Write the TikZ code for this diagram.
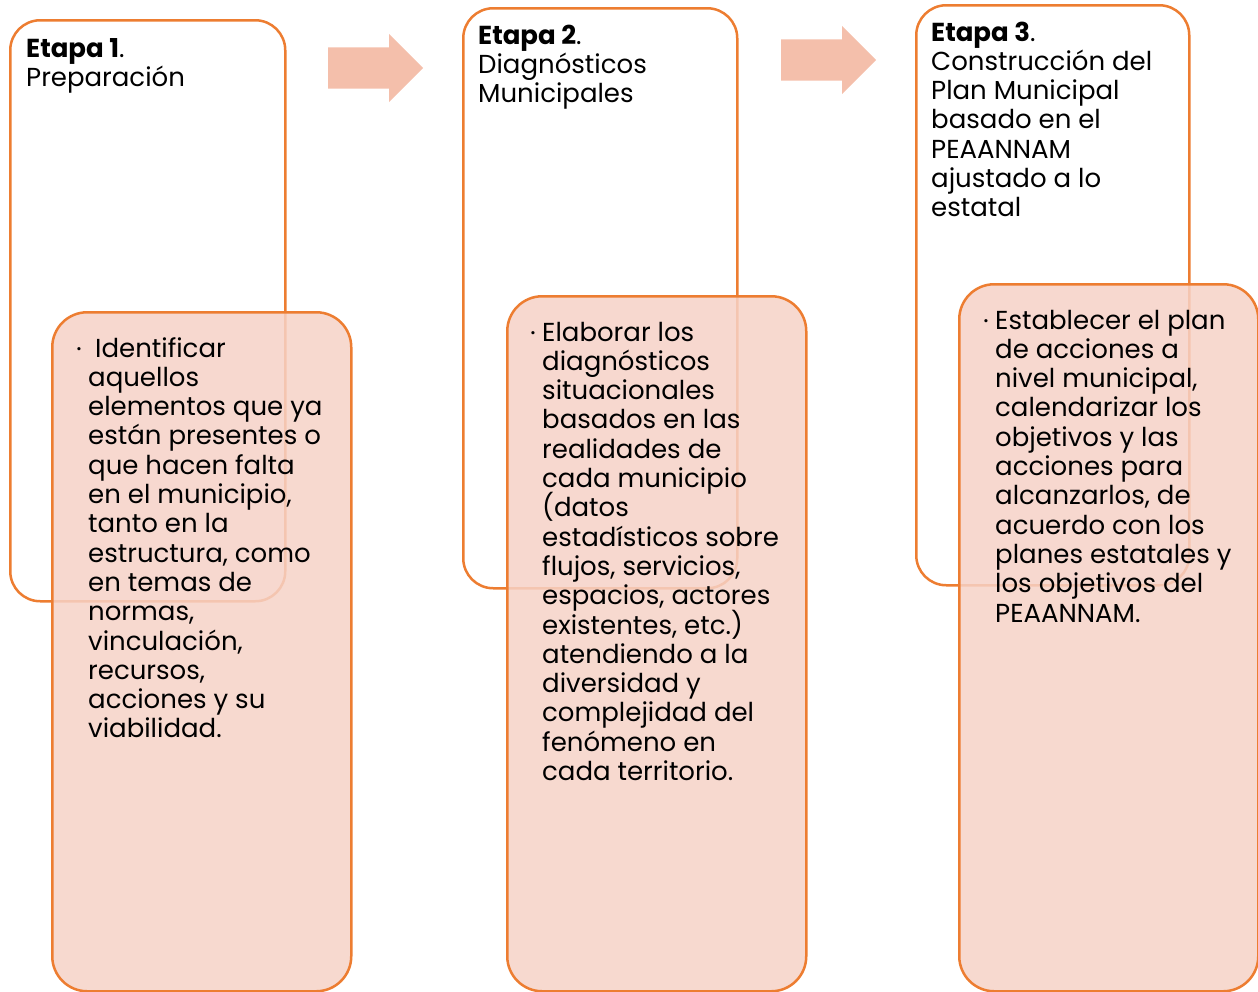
\documentclass[tikz,border=0pt]{standalone}
\usepackage{fontspec}
\setmainfont{Poppins}
\usetikzlibrary{shapes.arrows}
\definecolor{naranja}{HTML}{ED7D31}
\definecolor{rosa}{RGB}{246,210,199}
\definecolor{salmon}{RGB}{244,191,171}
\newcommand{\letracaja}{\fontsize{26}{29.3}\selectfont\lineskiplimit=-100pt\relax}
\begin{document}
\begin{tikzpicture}[x=1pt,y=-1pt,
	caja/.style={draw=naranja,line width=2.5pt,anchor=north west,inner sep=0pt},
	cajaalta/.style={caja,fill=white,rounded corners=30pt},
	cajabaja/.style={caja,fill=rosa,fill opacity=0.85,rounded corners=35pt},
	texto/.style={anchor=base west,align=left,inner sep=0pt,font=\letracaja},
	punto/.style={anchor=base,inner sep=0pt,font=\fontsize{13}{13}\selectfont},
	flecha/.style={single arrow,fill=salmon,inner xsep=0pt,inner ysep=20.5pt,
		single arrow head extend=13.5pt,minimum height=95pt,anchor=tail}]
	\useasboundingbox (0,0) rectangle (1258,991);

	% cajas de arriba
	\node[cajaalta,minimum width=275pt,minimum height=581pt] (alta1) at (9,19) {};
	\node[cajaalta,minimum width=274pt,minimum height=580pt] (alta2) at (462,7) {};
	\node[cajaalta,minimum width=273pt,minimum height=580pt] (alta3) at (915,4) {};

	% cajas de abajo
	\node[cajabaja,minimum width=299pt,minimum height=679pt] (baja1) at (51,311) {};
	\node[cajabaja,minimum width=299pt,minimum height=695pt] (baja2) at (506,295) {};
	\node[cajabaja,minimum width=299pt,minimum height=707pt] (baja3) at (958,283) {};

	% flechas
	\node[flecha] (flecha1) at (328,68) {};
	\node[flecha] (flecha2) at (781,60) {};

	% titulos (base = linea de abajo)
	\node[texto] (tit1) at (26,86.3) {\textbf{Etapa 1}.\\Preparación};
	\node[texto] (tit2) at (478,102.6) {\textbf{Etapa 2}.\\Diagnósticos\\Municipales};
	\node[texto] (tit3) at (931,216.8) {\textbf{Etapa 3}.\\Construcción del\\Plan Municipal\\basado en el\\PEAANNAM\\ajustado a lo\\estatal};

	% textos
	\node[punto] (p1) at (79,353) {•};
	\node[texto] (txt1) at (88,737.9) {\hspace{7pt}Identificar\\aquellos\\elementos que ya\\están presentes o\\que hacen falta\\en el municipio,\\tanto en la\\estructura, como\\en temas de\\normas,\\vinculación,\\recursos,\\acciones y su\\viabilidad.};
	\node[punto] (p2) at (533,337) {•};
	\node[texto] (txt2) at (542,780.5) {Elaborar los\\diagnósticos\\situacionales\\basados en las\\realidades de\\cada municipio\\(datos\\estadísticos sobre\\flujos, servicios,\\espacios, actores\\existentes, etc.)\\atendiendo a la\\diversidad y\\complejidad del\\fenómeno en\\cada territorio.};
	\node[punto] (p3) at (986,325) {•};
	\node[texto] (txt3) at (995,622) {Establecer el plan\\de acciones a\\nivel municipal,\\calendarizar los\\objetivos y las\\acciones para\\alcanzarlos, de\\acuerdo con los\\planes estatales y\\los objetivos del\\PEAANNAM.};
\end{tikzpicture}
\end{document}
